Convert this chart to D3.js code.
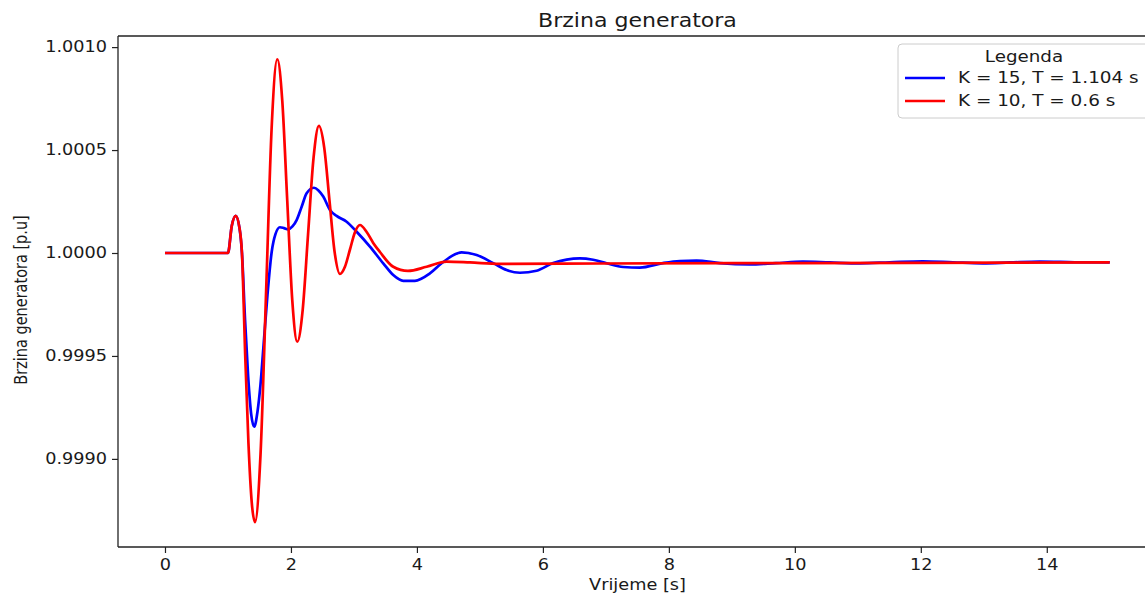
<!DOCTYPE html>
<html>
<head>
<meta charset="utf-8">
<script src="https://cdn.jsdelivr.net/npm/d3@7"></script>
<style>
  html, body { margin: 0; padding: 0; background: #fff; }
  svg { display: block; }
  text { font-family: "DejaVu Sans", sans-serif; fill: #1a1a1a; }
</style>
</head>
<body>
<svg id="chart" width="1145" height="594"></svg>
<script>
// ---- Data ----
const seriesNames = ["K = 15, T = 1.104 s", "K = 10, T = 0.6 s"];
const seriesColors = ["#0000ff", "#ff0000"];

const tBlue = [0, 1.000, 1.060, 1.122, 1.183, 1.222, 1.271, 1.320, 1.368, 1.417, 1.468, 1.516, 1.563, 1.627, 1.694,
  1.754, 1.825, 1.889, 1.957, 2.024, 2.090, 2.170, 2.249, 2.365, 2.437, 2.513, 2.619, 2.725, 2.884, 3.043, 3.254,
  3.465, 3.624, 3.783, 3.968, 4.206, 4.392, 4.551, 4.710, 4.948, 5.211, 5.424, 5.635, 5.900, 6.163, 6.376, 6.587,
  6.798, 7.011, 7.275, 7.540, 7.905, 8.175, 8.440, 8.810, 9.286, 9.698, 10.127, 10.556, 11.032, 11.508, 12.032,
  12.508, 12.984, 13.413, 13.889, 14.444, 15.0];
const vBlue = [1.000000, 1.000000, 1.000131, 1.000180, 1.000121, 1.000000, 0.999676, 0.999402, 0.999219, 0.999156,
  0.999228, 0.999359, 0.999543, 0.999796, 1.000005, 1.000092, 1.000125, 1.000121, 1.000115, 1.000129, 1.000160,
  1.000225, 1.000290, 1.000317, 1.000304, 1.000274, 1.000209, 1.000180, 1.000152, 1.000103, 1.000031, 0.999950,
  0.999893, 0.999865, 0.999865, 0.999901, 0.999950, 0.999985, 1.000003, 0.999990, 0.999951, 0.999917, 0.999904,
  0.999914, 0.999951, 0.999968, 0.999974, 0.999967, 0.999950, 0.999932, 0.999929, 0.999951, 0.999961, 0.999963,
  0.999951, 0.999945, 0.999951, 0.999958, 0.999954, 0.999950, 0.999955, 0.999960, 0.999955, 0.999950, 0.999954,
  0.999958, 0.999955, 0.999954];

const tRed = [0, 1.000, 1.060, 1.122, 1.183, 1.222, 1.274, 1.325, 1.377, 1.429, 1.517, 1.606, 1.694, 1.783, 1.862,
  1.941, 2.021, 2.100, 2.186, 2.272, 2.359, 2.444, 2.528, 2.611, 2.694, 2.778, 2.857, 2.937, 3.016, 3.095, 3.202,
  3.306, 3.413, 3.624, 3.857, 4.154, 4.471, 4.841, 5.317, 6.905, 10.079, 15.0];
const vRed = [1.000000, 1.000000, 1.000131, 1.000180, 1.000121, 1.000000, 0.999500, 0.999077, 0.998790, 0.998693,
  0.999023, 0.999817, 1.000612, 1.000941, 1.000740, 1.000255, 0.999770, 0.999569, 0.999723, 1.000093, 1.000463,
  1.000617, 1.000512, 1.000257, 1.000003, 0.999898, 0.999933, 1.000017, 1.000101, 1.000136, 1.000102, 1.000049,
  1.000005, 0.999933, 0.999913, 0.999933, 0.999958, 0.999954, 0.999947, 0.999949, 0.999951, 0.999954];

const xTicks = [0, 2, 4, 6, 8, 10, 12, 14];
const yTicks = [0.9990, 0.9995, 1.0000, 1.0005, 1.0010];
const titleText = "Brzina generatora";
const xLabel = "Vrijeme [s]";
const yLabel = "Brzina generatora [p.u]";
const legendTitle = "Legenda";

// ---- Layout ----
const SX = 1.18; // horizontal stretch of glyphs seen in the reference
const plot = { left: 118, right: 1157, top: 36, bottom: 547 };
const svg = d3.select("#chart");

const x = d3.scaleLinear().domain([-0.746, 15.75]).range([plot.left, plot.right]);
const y = d3.scaleLinear().domain([0.998572, 1.001054]).range([plot.bottom, plot.top]);

function stretchAt(sel, a) {
  sel.attr("transform", `translate(${a},0) scale(${SX},1) translate(${-a},0)`);
}

// lines
const line = d3.line().x(d => x(d[0])).y(d => y(d[1])).curve(d3.curveMonotoneX);
const blueData = tBlue.map((t, i) => [t, vBlue[i]]);
const redData = tRed.map((t, i) => [t, vRed[i]]);

svg.append("path").datum(blueData).attr("d", line)
  .attr("fill", "none").attr("stroke", seriesColors[0]).attr("stroke-width", 2.7)
  .attr("stroke-linejoin", "round");
svg.append("path").datum(redData).attr("d", line)
  .attr("fill", "none").attr("stroke", seriesColors[1]).attr("stroke-width", 2.7)
  .attr("stroke-linejoin", "round");

// axes
const xAxis = d3.axisBottom(x).tickValues(xTicks).tickFormat(d3.format("d")).tickSize(6).tickSizeOuter(0).tickPadding(6);
const yAxis = d3.axisLeft(y).tickValues(yTicks).tickFormat(d3.format(".4f")).tickSize(6).tickSizeOuter(0).tickPadding(5);

const gx = svg.append("g").attr("transform", `translate(0,${plot.bottom})`).call(xAxis);
const gy = svg.append("g").attr("transform", `translate(${plot.left},0)`).call(yAxis);
[gx, gy].forEach(g => {
  g.selectAll(".domain").remove();
  g.selectAll(".tick line").attr("stroke", "#222").attr("stroke-width", 1.2);
  g.selectAll(".tick text").attr("font-size", 15).attr("fill", "#1a1a1a")
    .style("font-family", "'DejaVu Sans', sans-serif");
});
gx.selectAll(".tick text").each(function() { stretchAt(d3.select(this), 0); });
gy.selectAll(".tick text").each(function() { stretchAt(d3.select(this), -11); });

// spines
svg.append("line").attr("x1", plot.left).attr("x2", plot.left).attr("y1", plot.top).attr("y2", plot.bottom)
  .attr("stroke", "#222").attr("stroke-width", 1.3);
svg.append("line").attr("x1", plot.left).attr("x2", plot.right).attr("y1", plot.bottom).attr("y2", plot.bottom)
  .attr("stroke", "#222").attr("stroke-width", 1.3);
svg.append("line").attr("x1", plot.left).attr("x2", plot.right).attr("y1", plot.top).attr("y2", plot.top)
  .attr("stroke", "#222").attr("stroke-width", 1.3);

// title
const cx = (plot.left + plot.right) / 2;
svg.append("text").attr("x", cx).attr("y", 27).attr("text-anchor", "middle")
  .attr("font-size", 18.7).text(titleText)
  .attr("transform", `translate(${cx},0) scale(${SX},1) translate(${-cx},0)`);

// x label
svg.append("text").attr("x", cx).attr("y", 590).attr("text-anchor", "middle")
  .attr("font-size", 15).text(xLabel)
  .attr("transform", `translate(${cx},0) scale(${SX},1) translate(${-cx},0)`);

// y label
svg.append("text").attr("x", 0).attr("y", 0).attr("text-anchor", "middle")
  .attr("font-size", 14.5).text(yLabel)
  .attr("transform", `translate(27,300) scale(${SX},1) rotate(-90)`);

// legend
const lg = svg.append("g");
lg.append("rect").attr("x", 898).attr("y", 44).attr("width", 254).attr("height", 74)
  .attr("rx", 4).attr("fill", "#fff").attr("fill-opacity", 0.8)
  .attr("stroke", "#cccccc").attr("stroke-width", 1);
lg.append("text").attr("x", 1024).attr("y", 62).attr("text-anchor", "middle")
  .attr("font-size", 15.5).text(legendTitle)
  .attr("transform", `translate(1024,0) scale(${SX},1) translate(-1024,0)`);
const rowsY = [78, 101];
seriesNames.forEach((name, i) => {
  lg.append("line").attr("x1", 905).attr("x2", 945).attr("y1", rowsY[i]).attr("y2", rowsY[i])
    .attr("stroke", seriesColors[i]).attr("stroke-width", 2.7);
  lg.append("text").attr("x", 958).attr("y", rowsY[i] + 5.5).attr("font-size", 15.6).text(name)
    .attr("transform", `translate(958,0) scale(${SX},1) translate(-958,0)`);
});
</script>
</body>
</html>
